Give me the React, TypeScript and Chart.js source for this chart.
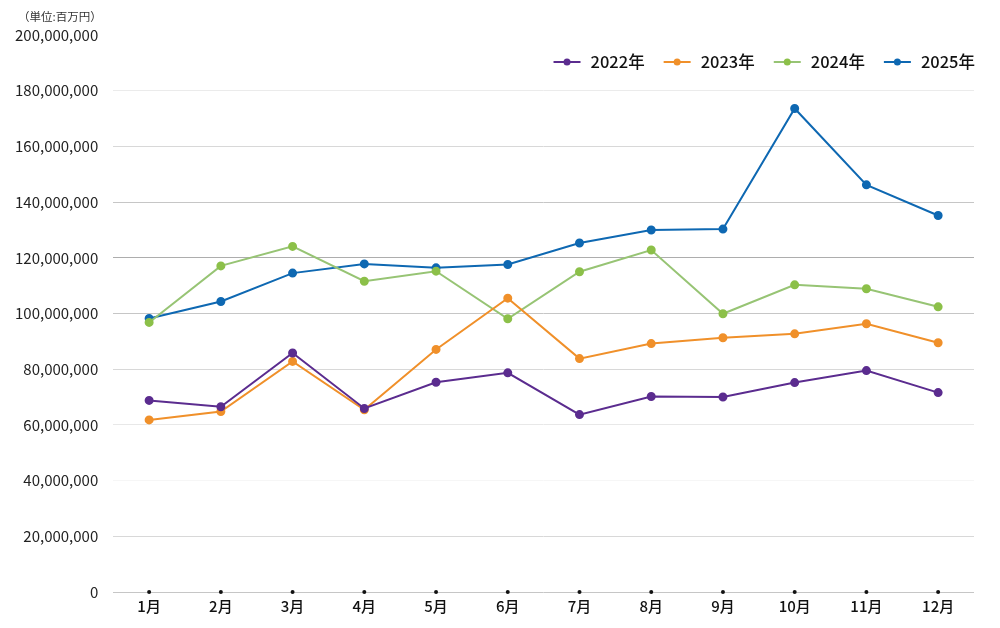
import { useEffect, useRef } from "react";
import { Chart, registerables } from "chart.js";

Chart.register(...registerables);

const months = ["1月", "2月", "3月", "4月", "5月", "6月", "7月", "8月", "9月", "10月", "11月", "12月"];

const sales2022 = [68800000, 66500000, 85800000, 65900000, 75300000, 78700000, 63700000, 70200000, 70000000, 75200000, 79500000, 71600000];
const sales2023 = [61800000, 64800000, 82800000, 65400000, 87100000, 105500000, 83800000, 89200000, 91300000, 92700000, 96300000, 89500000];
const sales2024 = [96800000, 117100000, 124100000, 111600000, 115200000, 98100000, 115000000, 122800000, 99900000, 110300000, 108900000, 102400000];
const sales2025 = [98200000, 104300000, 114500000, 117800000, 116400000, 117600000, 125300000, 130000000, 130300000, 173600000, 146200000, 135200000];

const yTicks = [0, 20000000, 40000000, 60000000, 80000000, 100000000, 120000000, 140000000, 160000000, 180000000, 200000000];
// gridline shades, bottom to top (the 200M line is not drawn)
const gridShades = ["#c6c6c6", "#d8d8d8", "#f6f6f6", "#e8e8e8", "#d8d8d8", "#c6c6c6", "#adadad", "#c6c6c6", "#d8d8d8", "#ebebeb", "rgba(0,0,0,0)"];

const FONT = "'Noto Sans CJK JP', 'Noto Sans', sans-serif";

const series = [
  { label: "2022年", data: sales2022, color: "#5b2c8f", line: "#5b2c8f" },
  { label: "2023年", data: sales2023, color: "#f0902a", line: "#f0902a" },
  { label: "2024年", data: sales2024, color: "#8cc049", line: "#97c474" },
  { label: "2025年", data: sales2025, color: "#0e68b2", line: "#0e68b2" },
];

const extras = {
  id: "extras",
  afterDraw(chart: Chart) {
    const ctx = chart.ctx;
    const x = chart.scales.x;
    const y = chart.scales.y;
    ctx.save();
    // dots on the baseline at each category
    ctx.fillStyle = "#111";
    const y0 = y.getPixelForValue(0);
    x.ticks.forEach((_t, i) => {
      ctx.beginPath();
      ctx.arc(x.getPixelForTick(i), y0, 2, 0, Math.PI * 2);
      ctx.fill();
    });

    // unit note
    ctx.fillStyle = "#333";
    ctx.font = `11.5px ${FONT}`;
    ctx.textBaseline = "middle";
    ctx.textAlign = "left";
    ctx.fillText("（単位:百万円）", 18, 17);

    // legend, right aligned inside the plot
    ctx.font = `500 16.5px ${FONT}`;
    const ly = 62;
    let right = chart.chartArea.right + 1;
    for (let i = chart.data.datasets.length - 1; i >= 0; i--) {
      const ds = chart.data.datasets[i];
      const text = ds.label as string;
      const tw = ctx.measureText(text).width;
      const textX = right - tw;
      ctx.fillStyle = "#111";
      ctx.fillText(text, textX, ly);
      const mEnd = textX - 10;
      const mStart = mEnd - 27;
      ctx.strokeStyle = series[i].line;
      ctx.lineWidth = 2;
      ctx.beginPath();
      ctx.moveTo(mStart, ly);
      ctx.lineTo(mEnd, ly);
      ctx.stroke();
      ctx.fillStyle = series[i].color;
      ctx.beginPath();
      ctx.arc((mStart + mEnd) / 2, ly, 3.5, 0, Math.PI * 2);
      ctx.fill();
      right = mStart - 19;
    }
    ctx.restore();
  },
};

export default function App() {
  const chartRef = useRef<HTMLCanvasElement>(null);
  const chartInstance = useRef<Chart | null>(null);

  useEffect(() => {
    document.body.style.margin = "0";
    if (!chartRef.current) return;
    const ctx = chartRef.current.getContext("2d");
    if (!ctx) return;
    if (chartInstance.current) chartInstance.current.destroy();

    chartInstance.current = new Chart(ctx, {
      type: "line",
      data: {
        labels: months,
        datasets: series.map((s) => ({
          label: s.label,
          data: s.data,
          borderColor: s.line,
          backgroundColor: s.color,
          pointBackgroundColor: s.color,
          pointBorderColor: s.color,
          borderWidth: 2,
          pointRadius: 3.5,
          tension: 0,
        })),
      },
      options: {
        responsive: false,
        animation: false,
        layout: { padding: { top: 35, left: 0, right: 26, bottom: 8 } },
        plugins: {
          tooltip: { enabled: false },
          legend: { display: false },
        },
        scales: {
          x: {
            offset: true,
            grid: { display: false, drawTicks: false },
            border: { display: false },
            ticks: {
              padding: 5,
              color: "#111",
              font: { family: FONT, size: 15, weight: 500 },
            },
          },
          y: {
            min: 0,
            max: 200000000,
            afterBuildTicks: (axis: any) => {
              axis.ticks = yTicks.map((v) => ({ value: v }));
            },
            grid: {
              drawTicks: false,
              color: (c: any) => gridShades[c.index] ?? "#d8d8d8",
            },
            border: { display: false },
            ticks: {
              padding: 15,
              color: "#222",
              font: { family: FONT, size: 15 },
              callback: (v: any) => Number(v).toLocaleString("en-US"),
            },
          },
        },
      },
      plugins: [extras],
    });

    return () => {
      if (chartInstance.current) {
        chartInstance.current.destroy();
        chartInstance.current = null;
      }
    };
  }, []);

  return (
    <div style={{ width: 1000, height: 628, background: "#fff" }}>
      <canvas ref={chartRef} width={1000} height={628} style={{ width: 1000, height: 628 }}></canvas>
    </div>
  );
}
